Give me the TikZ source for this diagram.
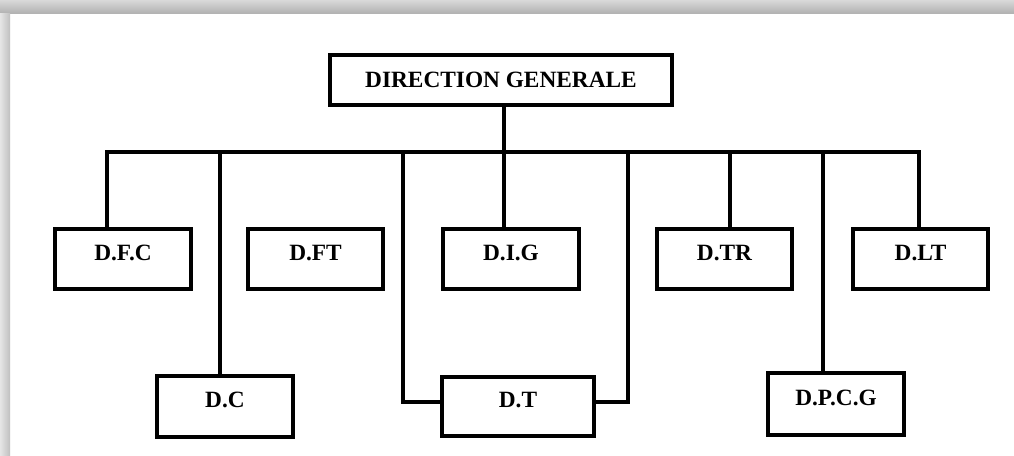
\documentclass[tikz,border=0pt]{standalone}
\usepackage{fontspec}
\setmainfont{Liberation Serif}
\begin{document}
\begin{tikzpicture}[x=0.75pt,y=-0.75pt,
  unit/.style={draw=black,line width=3pt,inner sep=0pt,minimum width=102pt,minimum height=45.5pt,
    font=\bfseries\fontsize{17.5}{20}\selectfont,text height=12.75pt,text depth=11.25pt},
  link/.style={line width=3pt,line join=miter}]
 \useasboundingbox (0,0) rectangle (1014,455);
 \fill[white] (0,0) rectangle (1014,455);
 \shade[top color=gray!30,bottom color=gray!60] (0,0) rectangle (1014,13);
 \shade[left color=gray!20,right color=gray!50] (0,13) rectangle (10,455);
 % nodes
 \node[unit,minimum width=256.5pt,minimum height=37.5pt,text height=12.75pt,text depth=2.25pt] (dg) at (501,80) {DIRECTION GENERALE};
 \node[unit] (dfc) at (123,259) {D.F.C};
 \node[unit,minimum width=101.25pt] (dft) at (315.5,259) {D.FT};
 \node[unit] (dig) at (511,259) {D.I.G};
 \node[unit,minimum width=101.25pt] (dtr) at (724.5,259) {D.TR};
 \node[unit,minimum width=101.25pt] (dlt) at (920.5,259) {D.LT};
 \node[unit] (dc) at (225,406.5) {D.C};
 \node[unit,minimum width=114pt,minimum height=44.25pt] (dt) at (518,406.5) {D.T};
 \node[unit,minimum height=46.5pt] (dpcg) at (836,404) {D.P.C.G};
 % bus coordinates
 \coordinate (busL) at (107,152);
 \coordinate (busR) at (919,152);
 \coordinate (hub) at (504,152);
 \coordinate (dcTap) at (220,152);
 \coordinate (dtL) at (403,152);
 \coordinate (dtR) at (628,152);
 \coordinate (dtrTap) at (730,152);
 \coordinate (dpcgTap) at (823,152);
 % connectors
 \draw[link] (busL |- dfc.north) -- (busL) -- (busR) -- (busR |- dlt.north);
 \draw[link] (dg.south -| hub) -- (hub) -- (hub |- dig.north);
 \draw[link] (dcTap) -- (dcTap |- dc.north);
 \draw[link] (dtL) |- ([yshift=3.4pt]dt.west);
 \draw[link] (dtR) |- ([yshift=3.4pt]dt.east);
 \draw[link] (dtrTap) -- (dtrTap |- dtr.north);
 \draw[link] (dpcgTap) -- (dpcgTap |- dpcg.north);
\end{tikzpicture}
\end{document}
